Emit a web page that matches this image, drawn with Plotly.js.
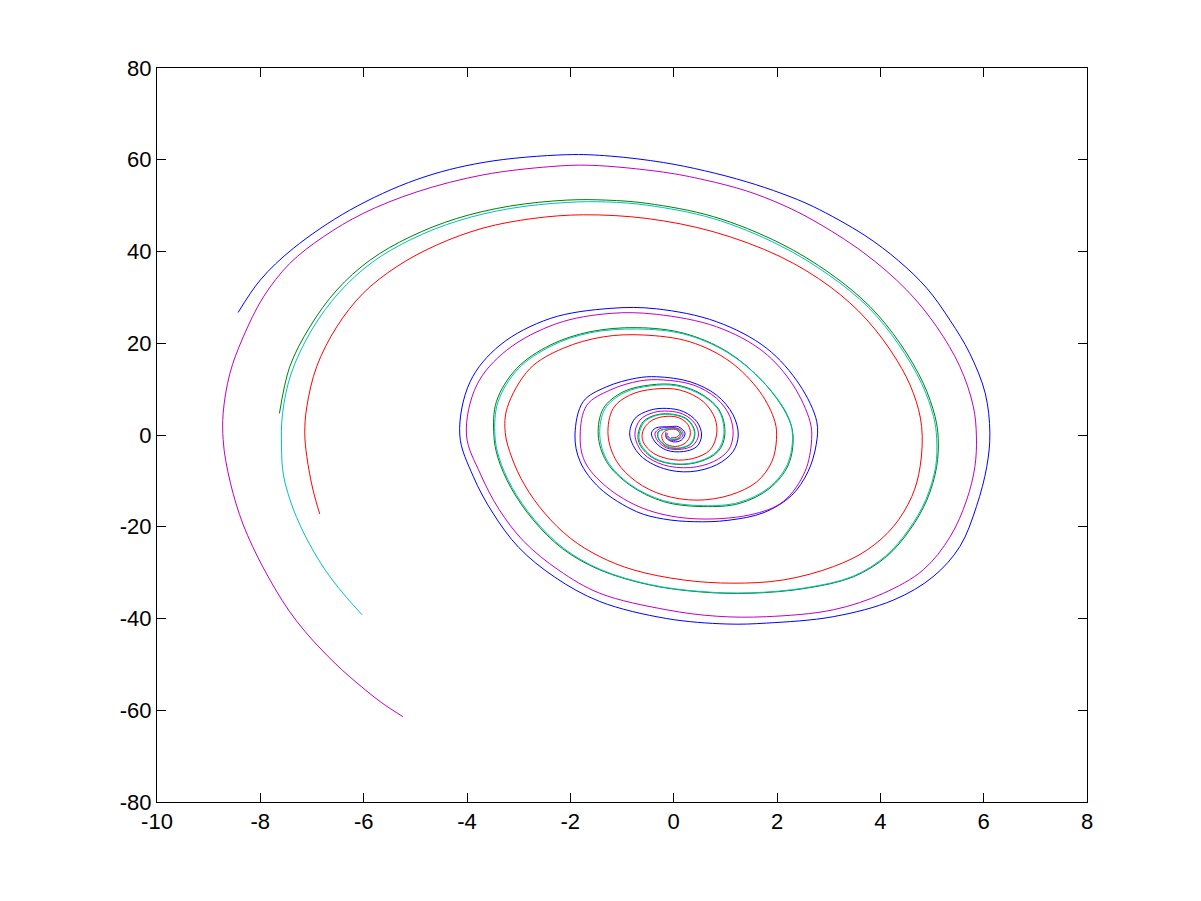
<!DOCTYPE html>
<html>
<head>
<meta charset="utf-8">
<script src="https://cdn.plot.ly/plotly-3.0.1.min.js"></script>
<style>html,body{margin:0;padding:0;background:#fff;}#chart{width:1201px;height:901px;}</style>
</head>
<body>
<div id="chart"></div>
<script>
// Data (phase-plane spirals), outer end -> centre
const blueX = [-8.43,-8.0,-7.36,-6.27,-4.97,-3.69,-2.07,-1.23,-0.20,0.60,1.41,2.10,2.70,3.70,4.35,4.90,5.35,5.73,6.03,6.12,6.06,5.86,5.54,5.02,4.25,3.09,1.80,1.03,-0.14,-1.43,-2.30,-3.00,-3.50,-3.88,-4.14,-3.94,-3.36,-2.39,-1.23,-0.33,0.83,1.80,2.44,2.77,2.76,2.60,2.28,1.75,1.05,0.40,-0.20,-0.72,-1.43,-1.81,-1.91,-1.75,-1.30,-0.72,-0.33,0.32,0.83,1.15,1.25,1.15,0.83,0.32,-0.20,-0.65,-0.85,-0.75,-0.46,-0.14,0.19,0.45,0.54,0.45,0.19,-0.14,-0.36,-0.43,-0.35,-0.07,0.09,0.22,0.15,0.0,-0.14,-0.15];
const blueY = [26.7,33.8,40.7,49.0,55.7,59.4,61.1,60.8,59.4,57.6,55.2,52.6,49.8,43.5,38.0,32.0,25.0,17.8,9.1,0.4,-6.9,-15.6,-24.3,-30.9,-36.0,-39.6,-41.0,-41.2,-40.0,-36.3,-31.0,-24.5,-17.0,-9.0,0,11.6,19.6,25.4,27.6,27.5,24.7,18.9,10.9,2.9,-2.0,-8.0,-13.2,-16.9,-18.6,-18.9,-18.3,-16.7,-11.6,-5.8,0,7.3,10.5,12.4,12.7,11.6,8.7,4.4,0,-3.6,-6.5,-8.0,-7.3,-4.4,0,3.6,5.4,5.8,5.1,2.9,0,-2.5,-3.6,-3.3,-1.5,0.4,1.5,1.8,1.8,0.4,-1.1,-1.5,-0.7,0.6];

const greenX = [-7.63,-7.43,-7.04,-6.52,-5.88,-5.10,-4.20,-3.17,-2.07,-1.30,-0.52,0.77,2.06,3.03,3.80,4.38,4.83,5.06,5.12,5.09,4.90,4.57,4.12,3.48,2.57,1.48,0.51,-0.46,-1.43,-2.15,-2.72,-3.15,-3.40,-3.48,-3.43,-3.04,-2.39,-1.62,-0.72,0.19,1.03,1.73,2.19,2.31,2.22,1.86,1.28,0.57,-0.20,-0.85,-1.30,-1.46,-1.36,-0.98,-0.46,0.06,0.57,0.90,0.99,0.86,0.51,0.06,-0.39,-0.65,-0.69,-0.59,-0.33,0.0,0.28,0.41,0.35,0.12,-0.14,-0.30,-0.30,-0.15,0.05,0.15,0.08,-0.05,-0.12];
const greenY = [4.7,14.9,23.6,31.6,38.1,43.2,47.2,49.9,51.2,51.2,50.5,47.6,41.8,35.2,28.0,20.0,11.3,4.0,-0.7,-6.9,-14.2,-20.7,-26.5,-30.9,-33.4,-34.5,-34.2,-32.7,-29.4,-24.8,-18.5,-11.5,-5.0,0,7.3,14.5,19.6,22.5,23.4,22.2,18.2,11.6,4.4,0,-6.5,-11.6,-14.9,-15.6,-14.5,-10.9,-5.8,0,5.8,9.4,10.9,10.9,8.7,5.1,0,-3.6,-5.8,-6.4,-5.1,-2.2,0,2.9,4.4,4.5,3.3,0.7,-1.8,-2.9,-2.5,-0.7,0.7,1.3,1.4,0.4,-0.8,-0.9,-0.2];

const redX = [-6.85,-6.98,-7.10,-7.14,-7.10,-6.91,-6.52,-6.01,-5.36,-4.59,-3.69,-2.72,-1.75,-0.52,0.77,2.06,3.03,3.74,4.32,4.64,4.80,4.77,4.61,4.25,3.74,3.09,2.12,1.15,0.19,-0.78,-1.43,-2.00,-2.50,-2.88,-3.13,-3.26,-3.22,-2.78,-2.14,-1.36,-0.59,0.32,1.09,1.67,1.96,1.99,1.90,1.61,1.09,0.45,-0.20,-0.72,-1.10,-1.27,-1.17,-0.85,-0.39,0.12,0.57,0.80,0.83,0.70,0.38,0.0,-0.39,-0.59,-0.60,-0.46,-0.20,0.09,0.28,0.32,0.22,0.03,-0.17,-0.23,-0.20,-0.08,0.06,0.12,0.05,-0.05];
const redY = [-17.2,-12.0,-4.7,0.4,6.2,14.9,23.6,30.9,36.7,41.4,45.1,47.2,48.0,47.2,44.3,38.9,32.3,25.1,16.3,9.1,1.8,-6.9,-13.4,-20.0,-25.1,-28.7,-31.6,-32.3,-31.6,-29.4,-26.5,-22.5,-17.0,-11.0,-5.0,0.5,6.0,14.5,18.9,21.4,21.8,20.3,16.0,9.4,2.9,-1.0,-5.8,-10.2,-13.1,-14.2,-13.1,-10.2,-5.8,0,5.8,8.7,10.0,9.8,7.3,3.6,0,-3.3,-5.1,-5.4,-4.0,-1.5,0.7,2.9,4.0,3.8,2.2,0,-1.8,-2.5,-1.8,-0.4,0.6,1.2,1.1,0.3,-0.5,-0.6];

const cyanX = [-6.03,-6.40,-6.74,-7.08,-7.36,-7.55,-7.59,-7.57,-7.40,-7.00,-6.48,-5.84,-5.07,-4.17,-3.15,-2.06,-1.30,-0.52,0.76,2.04,3.00,3.77,4.35,4.80,5.03,5.09,5.07,4.88,4.55,4.10,3.47,2.56,1.48,0.51,-0.46,-1.42,-2.13,-2.70,-3.13,-3.38,-3.46,-3.40,-3.01,-2.37,-1.61,-0.70,0.20,1.04,1.74,2.20,2.30,2.20,1.84,1.26,0.56,-0.20,-0.84,-1.28,-1.43,-1.33,-0.96,-0.45,0.07,0.57,0.89,0.97,0.84,0.50,0.06,-0.38,-0.63,-0.67,-0.57,-0.32,0.0,0.27,0.40,0.34,0.12,-0.13,-0.29,-0.29,-0.14,0.05,0.14,0.08,-0.05,-0.11];
const cyanY = [-39.2,-34.5,-29.5,-23.1,-16.2,-8.9,-2.5,4.7,13.5,23.0,31.0,37.6,42.7,46.7,49.4,50.7,50.8,50.1,47.2,41.4,34.9,27.8,19.8,11.2,4.0,-0.7,-6.9,-14.1,-20.6,-26.4,-30.8,-33.3,-34.4,-34.1,-32.6,-29.3,-24.7,-18.4,-11.4,-4.9,0,7.2,14.4,19.4,22.3,23.1,22.0,18.0,11.5,4.4,0,-6.4,-11.5,-14.7,-15.4,-14.3,-10.8,-5.7,0,5.7,9.2,10.7,10.7,8.5,5.0,0,-3.5,-5.7,-6.3,-5.0,-2.1,0,2.8,4.3,4.4,3.2,0.7,-1.7,-2.8,-2.4,-0.7,0.7,1.3,1.35,0.4,-0.7,-0.85,-0.2];

const magentaX = [-5.24,-5.66,-6.05,-6.43,-6.79,-7.13,-7.44,-7.70,-7.94,-8.15,-8.33,-8.47,-8.58,-8.67,-8.72,-8.72,-8.59,-8.33,-7.94,-7.43,-6.78,-6.01,-4.97,-3.69,-2.39,-1.62,-0.20,0.60,1.41,2.10,2.70,3.67,4.51,5.09,5.54,5.80,5.86,5.83,5.67,5.35,4.83,4.06,3.09,1.80,0.83,-0.14,-1.43,-2.22,-2.90,-3.38,-3.74,-4.01,-3.81,-3.23,-2.26,-1.23,-0.33,0.83,1.73,2.31,2.64,2.67,2.54,2.12,1.48,0.32,-0.59,-1.30,-1.72,-1.81,-1.68,-1.23,-0.65,-0.20,0.38,0.83,1.09,1.15,1.06,0.77,0.32,-0.20,-0.59,-0.75,-0.65,-0.39,-0.10,0.19,0.41,0.48,0.38,0.15,-0.14,-0.32,-0.36,-0.28,-0.05,0.15,0.18,0.10,-0.04,-0.13,-0.12];
const magentaY = [-61.4,-58.3,-54.8,-51.1,-47.1,-42.9,-38.4,-33.8,-29.0,-24.3,-19.6,-15.0,-10.4,-5.6,-1.0,4.7,13.4,21.4,30.1,37.4,43.2,48.3,53.0,56.7,58.5,58.8,57.3,55.6,53.2,50.2,46.8,39.8,31.6,23.6,14.9,6.2,-0.4,-6.9,-14.2,-22.2,-29.4,-34.5,-38.1,-39.6,-39.5,-38.1,-34.5,-29.5,-23.2,-16.2,-8.5,0,10.9,18.5,24.3,26.5,26.3,23.6,18.2,10.9,2.9,-1.0,-8.0,-14.5,-17.4,-18.2,-16.0,-11.3,-5.8,0,6.5,9.8,11.8,12.0,10.9,8.0,4.0,0,-3.3,-5.8,-7.1,-6.5,-4.0,0,3.3,4.9,5.2,4.5,2.5,0,-2.2,-3.1,-2.8,-1.1,0.4,1.3,1.7,1.0,0,-0.9,-1.2,-0.5,0.4];

const xTicks = [-10,-8,-6,-4,-2,0,2,4,6,8];
const yTicks = [-80,-60,-40,-20,0,20,40,60,80];

const series = [
  {x: blueX, y: blueY, color: '#0000ff'},
  {x: greenX, y: greenY, color: '#008000'},
  {x: redX, y: redY, color: '#ff0000'},
  {x: cyanX, y: cyanY, color: '#00bfbf'},
  {x: magentaX, y: magentaY, color: '#bf00bf'}
];

const traces = series.map(s => ({
  type: 'scatter', mode: 'lines', x: s.x, y: s.y,
  line: {color: s.color, width: 1, shape: 'spline', smoothing: 1},
  hoverinfo: 'skip', showlegend: false
}));

const axisCommon = {
  showgrid: false, zeroline: false, showline: true, linecolor: '#000', linewidth: 1,
  mirror: 'allticks', ticks: 'inside', ticklen: 9, tickwidth: 1, tickcolor: '#000',
  tickfont: {family: 'Liberation Sans, Arial, sans-serif', size: 22, color: '#000'},
  fixedrange: true
};

const layout = {
  width: 1201, height: 901,
  margin: {l: 157, r: 114, t: 68, b: 99},
  paper_bgcolor: '#fff', plot_bgcolor: '#fff',
  xaxis: Object.assign({}, axisCommon, {range: [-10, 8], tickvals: xTicks, ticktext: xTicks.map(String)}),
  yaxis: Object.assign({}, axisCommon, {range: [-80, 80], tickvals: yTicks, ticktext: yTicks.map(String)}),
  showlegend: false
};

Plotly.newPlot('chart', traces, layout, {displayModeBar: false, staticPlot: true});
</script>
</body>
</html>
